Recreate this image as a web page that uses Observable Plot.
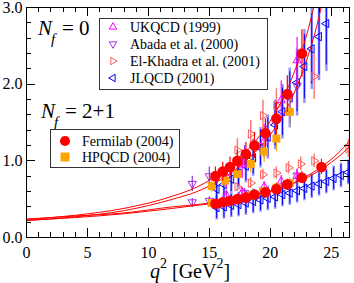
<!DOCTYPE html>
<html><head><meta charset="utf-8">
<script src="https://cdn.jsdelivr.net/npm/d3@7"></script>
<script src="https://cdn.jsdelivr.net/npm/@observablehq/plot@0.6"></script>
<style>body{margin:0;background:#fff} svg{font-family:"Liberation Serif","Times New Roman",serif;}</style>
</head><body><div id="chart"></div>
<script>
// ---- Fermilab (2004) ----
const fnalQ2p=[15.5,16.1,16.7,17.3,18.0,18.7,19.6,20.5,21.4,22.6];
const fnalFp=[0.80,0.86,0.92,1.00,1.09,1.20,1.36,1.55,1.87,2.40];
const fnalFpErr=[0.12,0.12,0.13,0.14,0.15,0.17,0.19,0.21,0.24,0.31];
const fnalQ2z=[15.5,16.1,16.7,17.3,18.0,18.7,19.6,20.5,21.4,22.6,24.2];
const fnalF0=[0.44,0.46,0.48,0.50,0.52,0.56,0.59,0.63,0.69,0.78,0.92];
const fnalF0Err=[0.05,0.05,0.05,0.05,0.06,0.06,0.06,0.07,0.07,0.08,0.10];
// ---- HPQCD (2004) ----
const hpQ2=[15.2,16.3,17.3,18.4,19.5,20.5,21.6];
const hpFp=[0.67,0.74,0.83,0.96,1.12,1.29,1.64];
const hpFpErr=[0.08,0.09,0.10,0.12,0.14,0.17,0.20];
const hpF0=[0.45,0.47,0.50,0.55,0.60,0.65,0.71];
const hpF0Err=[0.04,0.04,0.05,0.05,0.06,0.06,0.07];
// ---- UKQCD (1999) ----
const ukQ2=[16.4,17.7,19.5,20.9,22.2];
const ukFp=[0.80,0.95,1.25,1.79,2.31];
const ukFpErr=[0.15,0.18,0.22,0.25,0.30];
const ukF0=[0.55,0.59,0.66,0.73,0.80];
const ukF0Err=[0.06,0.06,0.07,0.08,0.09];
// ---- Abada et al. (2000) ----
const abQ2=[13.6,15.0,17.9,22.2];
const abFp=[0.70,0.80,1.05,1.98];
const abFpErr=[0.10,0.12,0.15,0.30];
const abF0=[0.46,0.48,0.58,0.81];
const abF0Err=[0.05,0.05,0.06,0.08];
// ---- El-Khadra et al. (2001) ----
const ekQ2p=[17.3,18.4,19.4,20.5,23.6];
const ekFp=[1.14,1.35,1.59,1.72,2.10];
const ekFpErr=[0.15,0.18,0.20,0.22,0.30];
const ekQ2z=[17.3,18.4,19.4,20.5,21.5,22.5,23.6,26.4];
const ekF0=[0.66,0.71,0.82,0.84,0.91,0.96,1.00,1.16];
const ekF0Err=[0.06,0.07,0.07,0.08,0.08,0.09,0.09,0.12];
// ---- JLQCD (2001) ----
const jlQ2p=[15.6,16.2,16.8,17.4,18.0,18.6,19.2,19.8,20.4,21.0,21.6,22.2,22.8,23.4,24.0,24.6];
const jlFp=[0.63,0.69,0.76,0.84,0.93,1.04,1.17,1.31,1.47,1.64,1.82,2.02,2.23,2.46,2.62,2.79];
const jlFpErr=[0.14,0.15,0.16,0.17,0.19,0.21,0.23,0.25,0.28,0.31,0.34,0.38,0.42,0.46,0.50,0.54];
const jlQ2z=[15.6,16.2,16.8,17.4,18.0,18.6,19.2,19.8,20.4,21.0,21.6,22.2,22.8,23.4,24.0,24.6,25.2,25.8,26.4];
const jlF0=[0.39,0.40,0.42,0.43,0.45,0.47,0.49,0.51,0.53,0.56,0.58,0.61,0.64,0.67,0.70,0.73,0.77,0.81,0.85];
const jlF0Err=[0.14,0.14,0.14,0.14,0.14,0.14,0.14,0.14,0.14,0.14,0.14,0.14,0.14,0.14,0.14,0.14,0.14,0.14,0.14];
// ---- fit curves ----
const fpAQ2=[0,4,8,12,14,16,18,20,21,22,23,24];
const fpAY=[0.235,0.29,0.38,0.54,0.66,0.85,1.12,1.52,1.80,2.17,2.65,3.3];
const fpBQ2=[0,4,8,12,14,16,18,20,21,22,23,24,24.5];
const fpBY=[0.22,0.27,0.35,0.50,0.60,0.76,1.00,1.34,1.58,1.90,2.32,2.88,3.25];
const f0Q2=[0,4,8,12,14,16,18,20,22,23,24,25,26,26.5];
const f0AY=[0.24,0.28,0.32,0.40,0.43,0.47,0.53,0.61,0.72,0.80,0.90,1.02,1.17,1.26];
const f0BY=[0.225,0.26,0.31,0.38,0.42,0.46,0.52,0.60,0.71,0.78,0.87,0.98,1.11,1.19];
// ---- axis ticks ----
const xMajor=[0,5,10,15,20,25];
const xMinor=d3.range(0,27);
const yMajor=[0,1,2,3];
const yMinor=d3.range(0,16).map(i=>i/5);

const tbl=(q,y,e)=>q.map((d,i)=>({x:d,y:y[i],e:e?e[i]:0}));

function triSym(dir){
  return {draw(ctx,size){
    const R=Math.sqrt(size/Math.PI)*1.2;
    for(let i=0;i<3;i++){const a=dir+i*2*Math.PI/3;const x=R*Math.cos(a),y=R*Math.sin(a);i?ctx.lineTo(x,y):ctx.moveTo(x,y);}
    ctx.closePath();
  }};
}
const symUp=triSym(-Math.PI/2), symDown=triSym(Math.PI/2), symRight=triSym(0), symLeft=triSym(Math.PI);

const C={fnal:"#ff0000",hp:"#ffa500",uk:"#ff00ff",ab:"#9b30e0",ek:"#ff5a5a",jl:"#0000ff",jlLight:"#7878ff"};

function series(data,color,symbol,opts={}){
  const marks=[];
  if(opts.light) marks.push(Plot.ruleX(data,{x:"x",y1:d=>d.y-d.e*1.15,y2:d=>d.y+d.e*1.15,stroke:opts.light,strokeWidth:2.5,strokeOpacity:0.8,clip:true}));
  marks.push(Plot.ruleX(data,{x:"x",y1:d=>d.y-d.e,y2:d=>d.y+d.e,stroke:color,strokeWidth:opts.bw||1.2,strokeOpacity:opts.bo||1,clip:true}));
  marks.push(Plot.dot(data,{x:"x",y:"y",symbol,r:opts.r||4,stroke:opts.fill?"none":color,fill:opts.fill?color:"none",strokeWidth:1,clip:true}));
  return marks;
}

const plot=Plot.plot({
  width:354,height:283,
  marginLeft:26,marginRight:5,marginTop:7,marginBottom:46,
  x:{domain:[0,26.5],axis:null},
  y:{domain:[0,3],axis:null},
  style:{background:"white",fontFamily:"Liberation Serif, serif"},
  marks:[
    ...series(tbl(jlQ2z,jlF0,jlF0Err),C.jl,symLeft,{light:C.jlLight,bw:1}),
    ...series(tbl(jlQ2p,jlFp,jlFpErr),C.jl,symLeft,{light:C.jlLight,bw:1}),
    ...series(tbl(ekQ2z,ekF0,ekF0Err),C.ek,symRight,{bw:1.5,bo:0.8}),
    ...series(tbl(ekQ2p,ekFp,ekFpErr),C.ek,symRight,{bw:1.5,bo:0.8}),
    ...series(tbl(abQ2,abF0,abF0Err),C.ab,symDown),
    ...series(tbl(abQ2,abFp,abFpErr),C.ab,symDown),
    ...series(tbl(ukQ2,ukF0,ukF0Err),C.uk,symUp),
    ...series(tbl(ukQ2,ukFp,ukFpErr),C.uk,symUp),
    Plot.line(tbl(fpAQ2,fpAY),{x:"x",y:"y",stroke:C.fnal,strokeWidth:1,curve:"monotone-x",clip:true}),
    Plot.line(tbl(fpBQ2,fpBY),{x:"x",y:"y",stroke:C.fnal,strokeWidth:1,curve:"monotone-x",clip:true}),
    Plot.line(tbl(f0Q2,f0AY),{x:"x",y:"y",stroke:C.fnal,strokeWidth:1,curve:"monotone-x",clip:true}),
    Plot.line(tbl(f0Q2,f0BY),{x:"x",y:"y",stroke:C.fnal,strokeWidth:1,curve:"monotone-x",clip:true}),
    ...series(tbl(hpQ2,hpF0,hpF0Err),C.hp,"square",{fill:true,r:4.5}),
    ...series(tbl(hpQ2,hpFp,hpFpErr),C.hp,"square",{fill:true,r:4.5}),
    ...series(tbl(fnalQ2z,fnalF0,fnalF0Err),C.fnal,"circle",{fill:true,r:5.3}),
    ...series(tbl(fnalQ2p,fnalFp,fnalFpErr),C.fnal,"circle",{fill:true,r:5.3}),
    Plot.frame({stroke:"black",strokeWidth:1}),
    Plot.axisX(xMajor,{anchor:"bottom",tickSize:0,tickPadding:9,fontSize:16,fill:"black",label:null}),
    Plot.axisY(yMajor,{anchor:"left",tickSize:0,tickPadding:4,fontSize:16,fill:"black",tickFormat:d3.format(".1f"),label:null})
  ]
});
document.getElementById("chart").appendChild(plot);

const svg=d3.select(plot);
// inward ticks on all four sides, placed with the plot's own scales
const sx=plot.scale("x"), sy=plot.scale("y");
const X0=sx.range[0], X1=sx.range[1], Y0=sy.range[0], Y1=sy.range[1];
const tg=svg.append("g").attr("stroke","black").attr("stroke-width",1);
function tickX(v,len){const x=Math.round(sx.apply(v))+0.5;
  tg.append("line").attr("x1",x).attr("x2",x).attr("y1",Y0).attr("y2",Y0-len);
  tg.append("line").attr("x1",x).attr("x2",x).attr("y1",Y1).attr("y2",Y1+len);}
function tickY(v,len){const y=Math.round(sy.apply(v))+0.5;
  tg.append("line").attr("y1",y).attr("y2",y).attr("x1",X0).attr("x2",X0+len);
  tg.append("line").attr("y1",y).attr("y2",y).attr("x1",X1).attr("x2",X1-len);}
xMinor.forEach(v=>tickX(v,xMajor.includes(v)?9:5));
yMinor.forEach(v=>tickY(v,yMajor.includes(Math.round(v*100)/100)&&Number.isInteger(Math.round(v*100)/100)?9:5));

const T=(x,y,size)=>svg.append("text").attr("x",x).attr("y",y).attr("font-size",size)
  .attr("text-anchor","start").attr("fill","black").attr("font-family","Liberation Serif, serif");
// axis label
const xl=T(150,278,20);
xl.append("tspan").attr("font-style","italic").text("q");
xl.append("tspan").attr("font-size",14).attr("dy",-10).text("2");
xl.append("tspan").attr("dy",10).text(" [GeV");
xl.append("tspan").attr("font-size",14).attr("dy",-10).text("2");
xl.append("tspan").attr("dy",10).text("]");

function nf(x,y,rest){
  T(x,y,21).attr("font-style","italic").text("N");
  T(x+13,y+9,15).attr("font-style","italic").text("f");
  T(x+24,y,21).text(rest);
}
nf(38,35,"= 0");
nf(41,118,"= 2+1");

function legend(x0,y0,w,h,rows){
  svg.append("rect").attr("x",x0).attr("y",y0).attr("width",w).attr("height",h).attr("fill","white").attr("stroke","#333").attr("stroke-width",1);
  rows.forEach(r=>{
    svg.append("path").attr("transform",`translate(${r.sx},${r.y})`)
      .attr("d",d3.symbol(r.sym,r.size)())
      .attr("fill",r.fill?r.c:"none").attr("stroke",r.fill?"none":r.c).attr("stroke-width",1);
    T(r.tx,r.y+5,14).text(r.t);
  });
}
legend(99.5,18.5,168,71,[
  {sym:symUp,size:40,c:C.uk,y:27,sx:113,tx:130,t:"UKQCD (1999)"},
  {sym:symDown,size:40,c:C.ab,y:44,sx:113,tx:130,t:"Abada et al. (2000)"},
  {sym:symRight,size:40,c:C.ek,y:61,sx:113,tx:130,t:"El-Khadra et al. (2001)"},
  {sym:symLeft,size:40,c:C.jl,y:78,sx:113,tx:130,t:"JLQCD (2001)"}
]);
legend(50.5,129.5,129,38,[
  {sym:d3.symbolCircle,size:80,c:C.fnal,fill:true,y:141,sx:65,tx:82,t:"Fermilab (2004)"},
  {sym:d3.symbolSquare,size:80,c:C.hp,fill:true,y:157,sx:65,tx:82,t:"HPQCD (2004)"}
]);
</script></body></html>
